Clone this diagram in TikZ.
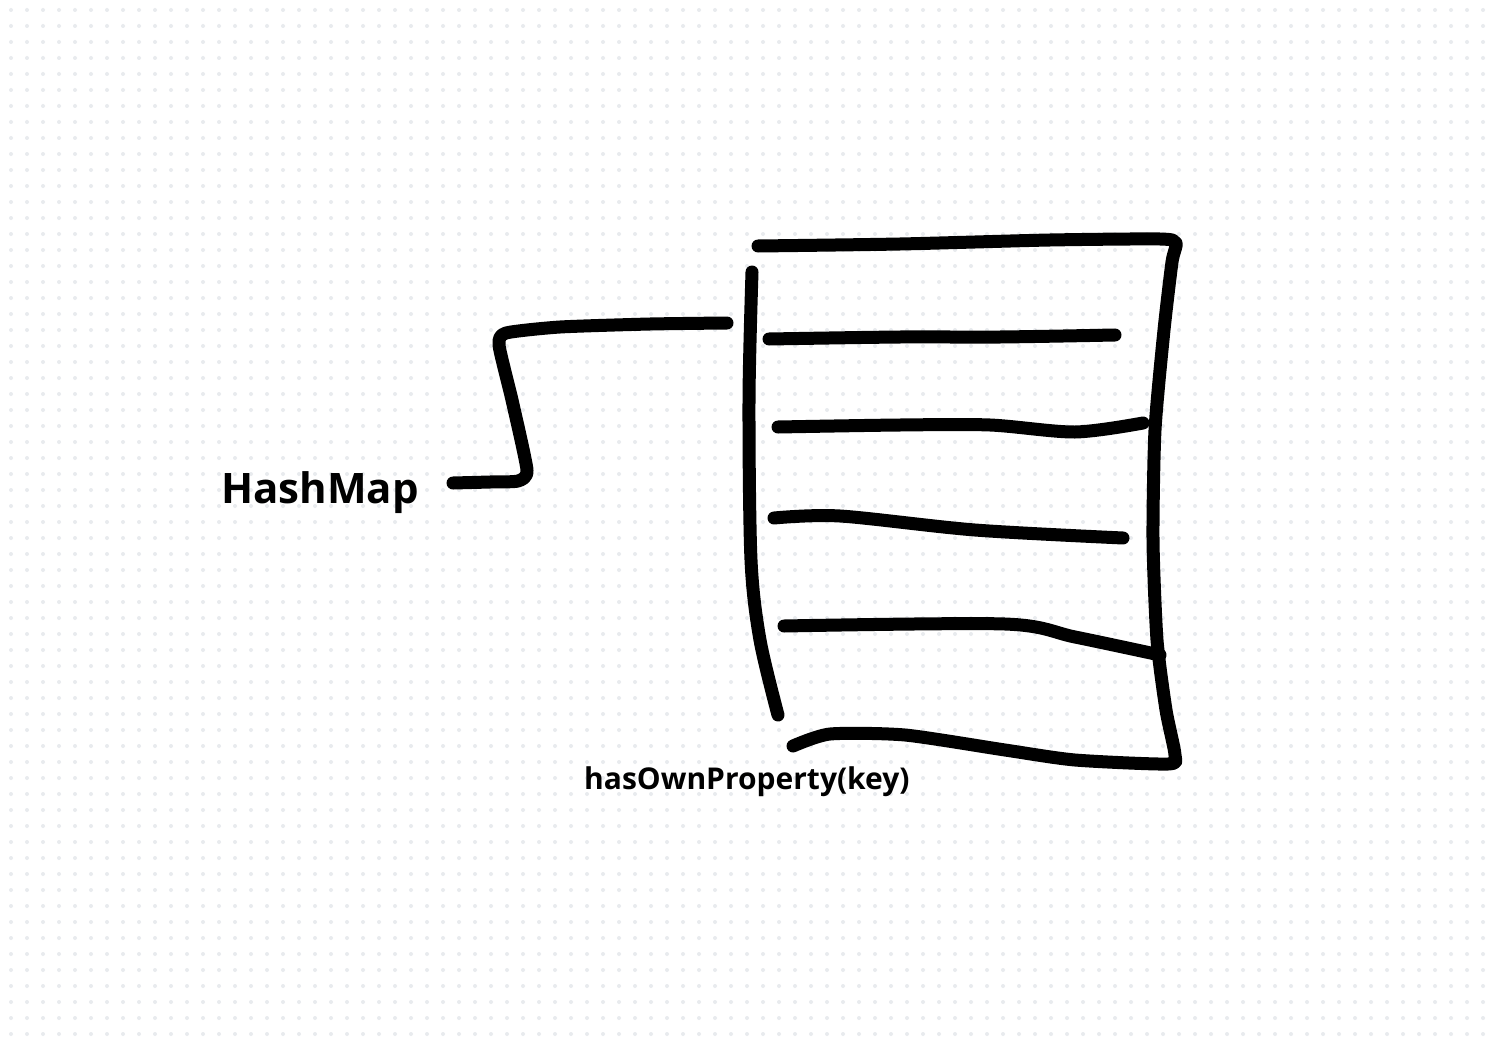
\documentclass[tikz,border=0pt]{standalone}
\usepackage{fontspec}
\setmainfont{Open Sans}
\begin{document}
\begin{tikzpicture}[x=1pt,y=-1pt,
  ink/.style={line width=13pt,line cap=round,line join=round,black},
  lbl/.style={inner sep=0pt,anchor=base west,font=\bfseries}]
\definecolor{dotgray}{HTML}{E8EBEE}
\useasboundingbox (0,0) rectangle (1496,1046);
\fill[white] (0,0) rectangle (1496,1046);
\foreach \i in {0,...,93}{
  \foreach \j in {0,...,65}{
    \fill[dotgray] (11+16*\i,10+16*\j) circle (2);
  }
}
% labels
\node[lbl,font=\fontsize{42}{46}\selectfont\bfseries] (hm) at (221,503) {HashMap};
\node[lbl,font=\fontsize{30}{34}\selectfont\bfseries] (hop) at (584,789) {hasOwnProperty(key)};
% connector
\coordinate (cA) at (453,483);
\coordinate (cB) at (727,323);
\draw[ink] plot[smooth,tension=0.35] coordinates {(cA) (490,482) (518,481) (527,470) (512,400) (499,345) (506,333) (560,327) (650,324) (cB)};
% outer frame: top, right, bottom
\coordinate (tl) at (758,246);
\coordinate (bl) at (793,746);
\draw[ink] plot[smooth,tension=0.4] coordinates {(tl) (900,244) (1050,240) (1160,239) (1176,243) (1172,262) (1164,330) (1155,430) (1153,540) (1157,640) (1166,710) (1175,755) (1168,764) (1075,760) (1005,750) (905,735) (830,734) (bl)};
% left side
\draw[ink] plot[smooth,tension=0.5] coordinates {(752,272) (749,400) (751,560) (760,640) (778,715)};
% rows
\draw[ink] plot[smooth,tension=0.5] coordinates {(769,339) (900,337) (1000,337) (1115,335)};
\draw[ink] plot[smooth,tension=0.5] coordinates {(778,427) (900,425) (990,425) (1075,432) (1143,423)};
\draw[ink] plot[smooth,tension=0.5] coordinates {(774,518) (840,516) (975,530) (1123,538)};
\draw[ink] plot[smooth,tension=0.5] coordinates {(784,626) (1005,624) (1075,637) (1160,655)};
\end{tikzpicture}
\end{document}
